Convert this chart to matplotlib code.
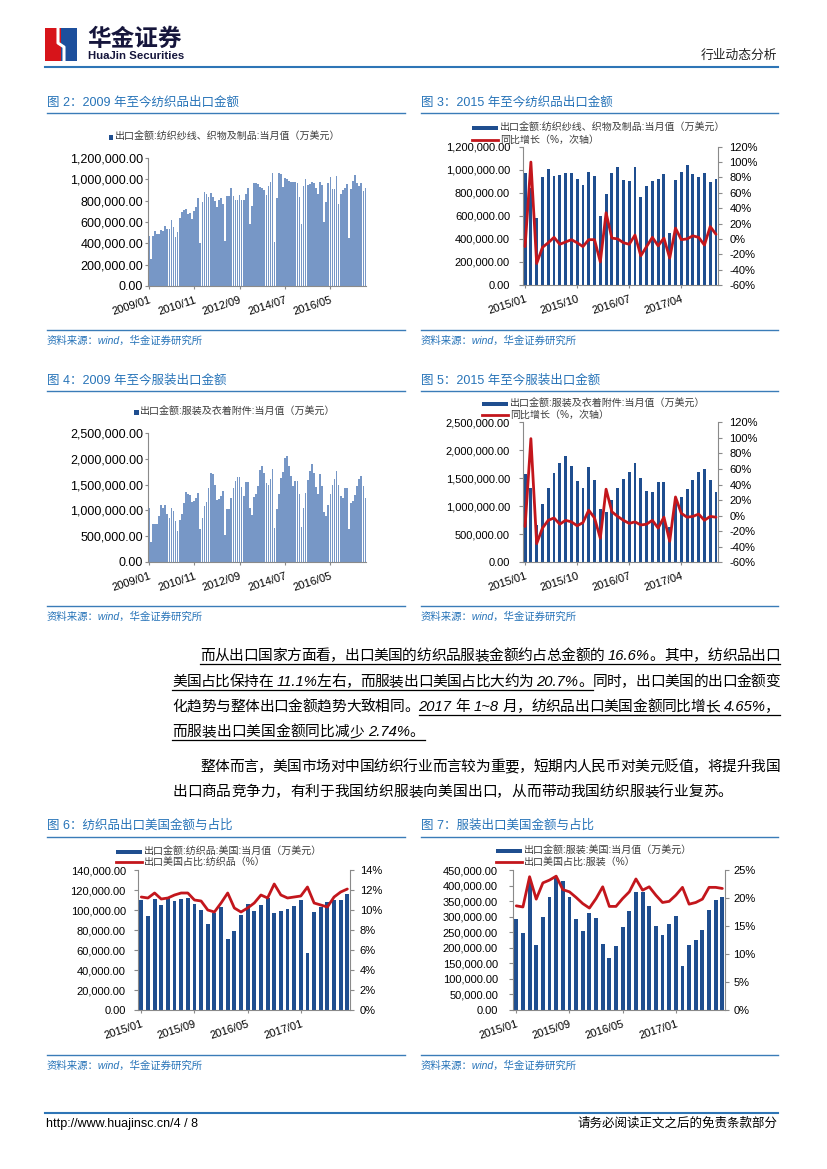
import matplotlib
matplotlib.use('Agg')
import numpy as np
import matplotlib.pyplot as plt
from matplotlib.patches import Rectangle
from matplotlib.lines import Line2D
from matplotlib.ticker import FuncFormatter

W, H = 827, 1169
plt.rcParams['font.family'] = ['Liberation Sans', 'Noto Sans CJK SC']
plt.rcParams['axes.unicode_minus'] = False

# monthly textile exports (thousand x 万美元), 2009/01 - 2017/10
tex_2009 = [470, 255, 470, 512, 490, 490, 528, 515, 565, 535, 535, 620]
tex_2010 = [556, 456, 503, 640, 697, 712, 718, 672, 681, 628, 703, 737]
tex_2011 = [822, 400, 790, 878, 859, 837, 868, 837, 797, 743, 806, 828]
tex_2012 = [765, 420, 847, 844, 922, 840, 803, 803, 853, 809, 809, 860]
tex_2013 = [922, 584, 750, 962, 969, 953, 931, 916, 900, 853, 940, 972]
tex_2014 = [1056, 416, 828, 1056, 1047, 925, 1009, 1003, 984, 972, 972, 978]
tex_2015 = [969, 839, 579, 940, 1004, 946, 952, 975, 969, 917, 865, 978]
tex_2016 = [946, 602, 790, 969, 1021, 911, 905, 1027, 766, 859, 900, 917]
tex_2017 = [960, 454, 911, 980, 1041, 966, 935, 969, 894, 920]

# monthly apparel exports (thousand x 万美元), 2009/01 - 2017/10
app_2009 = [1039, 390, 727, 727, 727, 890, 1097, 1039, 1097, 922, 844, 1045]
app_2010 = [987, 792, 597, 812, 929, 1143, 1351, 1318, 1299, 1156, 1188, 1240]
app_2011 = [1331, 630, 857, 1091, 1156, 1442, 1721, 1701, 1494, 1201, 1221, 1286]
app_2012 = [1370, 526, 1020, 1026, 1247, 1429, 1578, 1656, 1649, 1448, 1286, 1546]
app_2013 = [1546, 1039, 909, 1253, 1312, 1474, 1786, 1864, 1734, 1539, 1494, 1604]
app_2014 = [1799, 649, 1020, 1318, 1624, 1750, 2013, 2059, 1870, 1669, 1474, 1578]
app_2015 = [1577, 1327, 667, 1042, 1333, 1589, 1768, 1905, 1720, 1446, 1327, 1708]
app_2016 = [1470, 958, 893, 1113, 1327, 1488, 1607, 1768, 1500, 1280, 1250, 1429]
app_2017 = [1429, 631, 1150, 1173, 1300, 1470, 1610, 1660, 1470, 1250]

# yoy growth (%), 2015/01 - 2017/10
tex_yoy = [-10, 100, -32, -11, -5, 2, -7, -4, -1, -5, -10, -1, -1, -30, 34, 1, 0,
           -5, -7, 5, -22, -10, 2, -9, 1, -25, 14, -1, 0, 4, 2, -8, 16, 6]
app_yoy = [-14, 99, -36, -16, -6, -3, -11, -6, -8, -13, -9, 7, -3, -29, 34, 5, -1,
           -6, -10, -8, -12, -11, -6, -16, -2, -33, 24, 3, -2, -1, 2, -6, -1, -2]

# exports to US, 2015/01 - 2017/08
us_tex = [110, 94, 110.7, 105, 111.7, 109, 110.7, 112.3, 105.7, 100, 86, 97.3, 103.3, 70.7,
          79, 95, 105.7, 99.3, 104.7, 111.7, 96.7, 99, 101.3, 104, 110, 56.7, 97.7, 103.3,
          108, 109.7, 110, 116]
us_tex_share = [11.3, 11.2, 11.7, 11.1, 11.2, 11.5, 11.7, 11.7, 11.0, 10.9, 10.0, 9.8, 10.7,
                11.7, 10.2, 9.8, 10.2, 10.7, 11.5, 11.2, 12.6, 11.5, 11.2, 11.3, 11.4, 12.3,
                10.7, 10.5, 10.3, 11.3, 11.8, 12.1]
us_app = [294, 246, 418, 208, 298, 364, 423, 416, 362, 292, 254, 311, 297, 212, 167, 207, 267,
          318, 380, 380, 334, 270, 241, 278, 301, 141, 209, 225, 257, 321, 353, 362]
us_app_share = [18.6, 18.4, 23.8, 19.8, 22.7, 23.2, 23.9, 21.5, 21.1, 20.1, 19.0, 18.2, 19.9,
                22.0, 18.5, 18.5, 19.9, 21.1, 23.4, 21.4, 22.0, 20.5, 19.2, 19.4, 20.5, 21.9,
                18.9, 19.2, 19.8, 21.9, 21.9, 21.7]

long_ticks = [0, 22, 44, 66, 88]
long_labels = ['2009/01', '2010/11', '2012/09', '2014/07', '2016/05']
short_ticks = [0, 9, 18, 27]
short_labels = ['2015/01', '2015/10', '2016/07', '2017/04']
us_ticks = [0, 8, 16, 24]
us_labels = ['2015/01', '2015/09', '2016/05', '2017/01']

tex_all = np.array(tex_2009 + tex_2010 + tex_2011 + tex_2012 + tex_2013 + tex_2014
                   + tex_2015 + tex_2016 + tex_2017) * 1000
app_all = np.array(app_2009 + app_2010 + app_2011 + app_2012 + app_2013 + app_2014
                   + app_2015 + app_2016 + app_2017) * 1000
tex_recent = np.array(tex_2015 + tex_2016 + tex_2017) * 1000
app_recent = np.array(app_2015 + app_2016 + app_2017) * 1000

NAVY = '#1f4e8f'
LIGHT = '#7797c6'
RED = '#c3161c'
BLUE_T = '#2673b8'
LINE_C = '#3a7cb8'
AX_C = '#8a8a8a'
GRAY = '#3c3c3c'

fig = plt.figure(figsize=(W / 100, H / 100), dpi=100)


def fx(x):
    return x / W


def fy(y):
    return 1 - y / H


def page_axes(left, top, right, bottom):
    return fig.add_axes([fx(left), fy(bottom), (right - left) / W, (bottom - top) / H])


def hline(x0, x1, y, color, lw):
    fig.add_artist(Line2D([fx(x0), fx(x1)], [fy(y), fy(y)], color=color, lw=lw,
                          transform=fig.transFigure))


def money_fmt(v, pos):
    return f'{v:,.2f}'


def pct_fmt(v, pos):
    return f'{v:.0f}%'


def base_axes(ax, n, ymax, ystep, xpos, xlab, ysize, ylen, ypad, xl=-0.5, xr=None):
    ax.set_xlim(xl, n - 0.5 if xr is None else xr)
    ax.set_ylim(0, ymax)
    ax.set_yticks(np.arange(0, ymax + ystep / 2, ystep))
    ax.yaxis.set_major_formatter(FuncFormatter(money_fmt))
    ax.set_xticks(xpos)
    ax.set_xticklabels(xlab, rotation=18, ha='right', va='top', rotation_mode='anchor')
    ax.tick_params(axis='x', labelsize=8, length=2.5, color=AX_C, pad=4)
    ax.tick_params(axis='y', labelsize=ysize, length=ylen, color=AX_C, pad=ypad)
    ax.spines['top'].set_visible(False)
    ax.spines['right'].set_visible(False)
    for s in ['left', 'bottom']:
        ax.spines[s].set_color(AX_C)
        ax.spines[s].set_linewidth(0.8)
    ax.patch.set_alpha(0)


def right_axes(ax, ylo, yhi, ystep, rpad):
    ax2 = ax.twinx()
    ax2.set_ylim(ylo, yhi)
    ax2.set_yticks(np.arange(ylo, yhi + ystep / 2, ystep))
    ax2.yaxis.set_major_formatter(FuncFormatter(pct_fmt))
    ax2.tick_params(axis='y', labelsize=8, length=3, color=AX_C, pad=rpad)
    for s in ['top', 'left', 'bottom']:
        ax2.spines[s].set_visible(False)
    ax2.spines['right'].set_color(AX_C)
    ax2.spines['right'].set_linewidth(0.8)
    return ax2


def legend_bar(x, y, text, w=26, h=4.5):
    fig.add_artist(Rectangle((fx(x), fy(y + h / 2)), w / W, h / H, transform=fig.transFigure,
                             color=NAVY, lw=0))
    fig.text(fx(x + w + 2), fy(y), text, fontsize=7.2, va='center', ha='left', color=GRAY)


def legend_line(x, y, text, w=26):
    fig.add_artist(Line2D([fx(x), fx(x + w)], [fy(y), fy(y)], color=RED, lw=2,
                          transform=fig.transFigure))
    fig.text(fx(x + w + 2), fy(y), text, fontsize=7.2, va='center', ha='left', color=GRAY)


def legend_square(x, y, text):
    fig.add_artist(Rectangle((fx(x), fy(y + 2.5)), 4.5 / W, 5 / H, transform=fig.transFigure,
                             color=NAVY, lw=0))
    fig.text(fx(x + 5.5), fy(y), text, fontsize=7.2, va='center', ha='left', color=GRAY)


def panel_frame(x0, x1, title, ty, src_y):
    fig.text(fx(x0), fy(ty), title, fontsize=9, color=BLUE_T, va='center', ha='left')
    hline(x0, x1, ty + 10.5, LINE_C, 1.0)
    hline(x0, x1, src_y - 11, LINE_C, 1.0)
    fig.text(fx(x0), fy(src_y), '资料来源：wind，华金证券研究所', fontsize=7.5, color=BLUE_T,
             style='italic', va='center', ha='left')


# ---------------- header ----------------
fig.add_artist(Rectangle((fx(45), fy(61)), 16 / W, 33 / H, transform=fig.transFigure,
                         color='#d7141a', lw=0))
fig.add_artist(Rectangle((fx(61), fy(61)), 16 / W, 33 / H, transform=fig.transFigure,
                         color='#1d4f9c', lw=0))
fig.add_artist(Line2D([fx(58), fx(58), fx(64), fx(64)], [fy(28), fy(43), fy(47), fy(61)],
                      color='white', lw=2.2, transform=fig.transFigure))
fig.text(fx(87), fy(39), '华金证券', fontsize=17, fontweight='bold', color='#16163c',
         va='center', ha='left')
fig.text(fx(88), fy(56), 'HuaJin Securities', fontsize=8.2, fontweight='bold', color='#16163c',
         va='center', ha='left')
fig.text(fx(777), fy(56), '行业动态分析', fontsize=9.2, color='#222222', va='center', ha='right')
hline(45, 778, 67, '#2e75b6', 1.5)

# ---------------- row 1 ----------------
panel_frame(47, 405, '图 2：2009 年至今纺织品出口金额', 102, 341)
panel_frame(421, 778, '图 3：2015 年至今纺织品出口金额', 102, 341)

ax = page_axes(147.5, 158, 366.5, 286)
ax.bar(np.arange(len(tex_all)), tex_all, width=0.82, color=LIGHT, lw=0)
base_axes(ax, len(tex_all), 1200000, 200000, long_ticks, long_labels, 9, 2, 1, xl=-0.6)
legend_square(109, 137, '出口金额:纺织纱线、织物及制品:当月值（万美元）')

ax = page_axes(522.5, 146.7, 718.3, 285)
x = np.arange(len(tex_recent))
ax.bar(x, tex_recent, width=0.5, color=NAVY, lw=0)
base_axes(ax, len(tex_recent), 1200000, 200000, short_ticks, short_labels, 8, 3, 6,
          xl=-0.45, xr=33.4)
ax2 = right_axes(ax, -60, 120, 20, 5)
ax2.plot(x, tex_yoy, color=RED, lw=2, solid_joinstyle='round', solid_capstyle='round')
legend_bar(472, 128, '出口金额:纺织纱线、织物及制品:当月值（万美元）')
legend_line(472, 140, '同比增长（%，次轴）')

# ---------------- row 2 ----------------
panel_frame(47, 405, '图 4：2009 年至今服装出口金额', 380, 617)
panel_frame(421, 778, '图 5：2015 年至今服装出口金额', 380, 617)

ax = page_axes(147.5, 433.3, 366.5, 561.7)
ax.bar(np.arange(len(app_all)), app_all, width=0.82, color=LIGHT, lw=0)
base_axes(ax, len(app_all), 2500000, 500000, long_ticks, long_labels, 9, 2, 1, xl=-0.6)
legend_square(134, 412, '出口金额:服装及衣着附件:当月值（万美元）')

ax = page_axes(522.5, 422.3, 718.3, 562.3)
x = np.arange(len(app_recent))
ax.bar(x, app_recent, width=0.5, color=NAVY, lw=0)
base_axes(ax, len(app_recent), 2500000, 500000, short_ticks, short_labels, 8, 3, 6,
          xl=-0.45, xr=33.4)
ax2 = right_axes(ax, -60, 120, 20, 5)
ax2.plot(x, app_yoy, color=RED, lw=2, solid_joinstyle='round', solid_capstyle='round')
legend_bar(482, 404, '出口金额:服装及衣着附件:当月值（万美元）')
legend_line(482, 415, '同比增长（%，次轴）')

# ---------------- body text ----------------


def tokens(s):
    out, buf = [], ''
    for ch in s:
        if ord(ch) < 128 and ch != ' ':
            buf += ch
        else:
            if buf:
                out.append(buf)
                buf = ''
            out.append(ch)
    if buf:
        out.append(buf)
    return out


def body_line(segs, x0, yc, x1=None, size=10.6):
    base = yc + 5
    items = []
    for s, u in segs:
        for t in tokens(s):
            items.append((t, u))
    r = fig.canvas.get_renderer()
    arts, widths = [], []
    for t, u in items:
        if t == ' ':
            arts.append(None)
            widths.append(size / 72 * 100 * 0.278)
        else:
            a = fig.text(0, fy(base), t, fontsize=size, ha='left', va='baseline',
                         style='italic' if u else 'normal', color='black')
            arts.append(a)
            widths.append(a.get_window_extent(r).width)
    gap = 0
    if x1 is not None and len(items) > 1:
        gap = (x1 - x0 - sum(widths)) / (len(items) - 1)
    xx = x0
    run = None
    for (t, u), a, w in zip(items, arts, widths):
        if a is not None:
            a.set_x(fx(xx))
        if u:
            run = (xx if run is None else run[0], xx + w)
        elif run is not None:
            hline(run[0], run[1], base + 4, 'black', 0.9)
            run = None
        xx += w + gap
    if run is not None:
        hline(run[0], run[1], base + 4, 'black', 0.9)


body_line([('而从出口国家方面看，出口美国的纺织品服装金额约占总金额的 16.6%。其中，纺织品出口', True)],
          200, 655, 780)
body_line([('美国占比保持在 11.1%左右，而服装出口美国占比大约为 20.7%。', True),
           ('同时，出口美国的出口金额变', False)], 172, 681, 780)
body_line([('化趋势与整体出口金额趋势大致相同。', False),
           ('2017 年 1~8 月，纺织品出口美国金额同比增长 4.65%，', True)], 172, 706, 780)
body_line([('而服装出口美国金额同比减少 2.74%。', True)], 172, 731)
body_line([('整体而言，美国市场对中国纺织行业而言较为重要，短期内人民币对美元贬值，将提升我国', False)],
          200, 766, 780)
body_line([('出口商品竞争力，有利于我国纺织服装向美国出口，从而带动我国纺织服装行业复苏。', False)],
          172, 791)

# ---------------- row 3 ----------------
panel_frame(47, 405, '图 6：纺织品出口美国金额与占比', 826, 1066)
panel_frame(421, 778, '图 7：服装出口美国金额与占比', 826, 1066)

ax = page_axes(138.3, 870, 350, 1010)
x = np.arange(len(us_tex))
ax.bar(x, np.array(us_tex) * 1000, width=0.58, color=NAVY, lw=0)
base_axes(ax, len(us_tex), 140000, 20000, us_ticks, us_labels, 8, 3, 6, xl=-0.45, xr=31.4)
ax2 = right_axes(ax, 0, 14, 2, 4)
ax2.plot(x, us_tex_share, color=RED, lw=2, solid_joinstyle='round', solid_capstyle='round')
legend_bar(116, 852, '出口金额:纺织品:美国:当月值（万美元）')
legend_line(116, 862, '出口美国占比:纺织品（%）')

ax = page_axes(513.3, 870, 725, 1010)
x = np.arange(len(us_app))
ax.bar(x, np.array(us_app) * 1000, width=0.58, color=NAVY, lw=0)
base_axes(ax, len(us_app), 450000, 50000, us_ticks, us_labels, 8, 3, 8, xl=-0.45, xr=31.4)
ax2 = right_axes(ax, 0, 25, 5, 3)
ax2.plot(x, us_app_share, color=RED, lw=2, solid_joinstyle='round', solid_capstyle='round')
legend_bar(496, 851, '出口金额:服装:美国:当月值（万美元）')
legend_line(496, 862, '出口美国占比:服装（%）')

# ---------------- footer ----------------
hline(45, 778, 1113, '#2e75b6', 1.5)
fig.text(fx(46), fy(1124), 'http://www.huajinsc.cn/4 / 8', fontsize=9, color='black',
         va='center', ha='left')
fig.text(fx(777), fy(1124), '请务必阅读正文之后的免责条款部分', fontsize=9, color='black',
         va='center', ha='right')

fig.savefig('out.png', dpi=100)
